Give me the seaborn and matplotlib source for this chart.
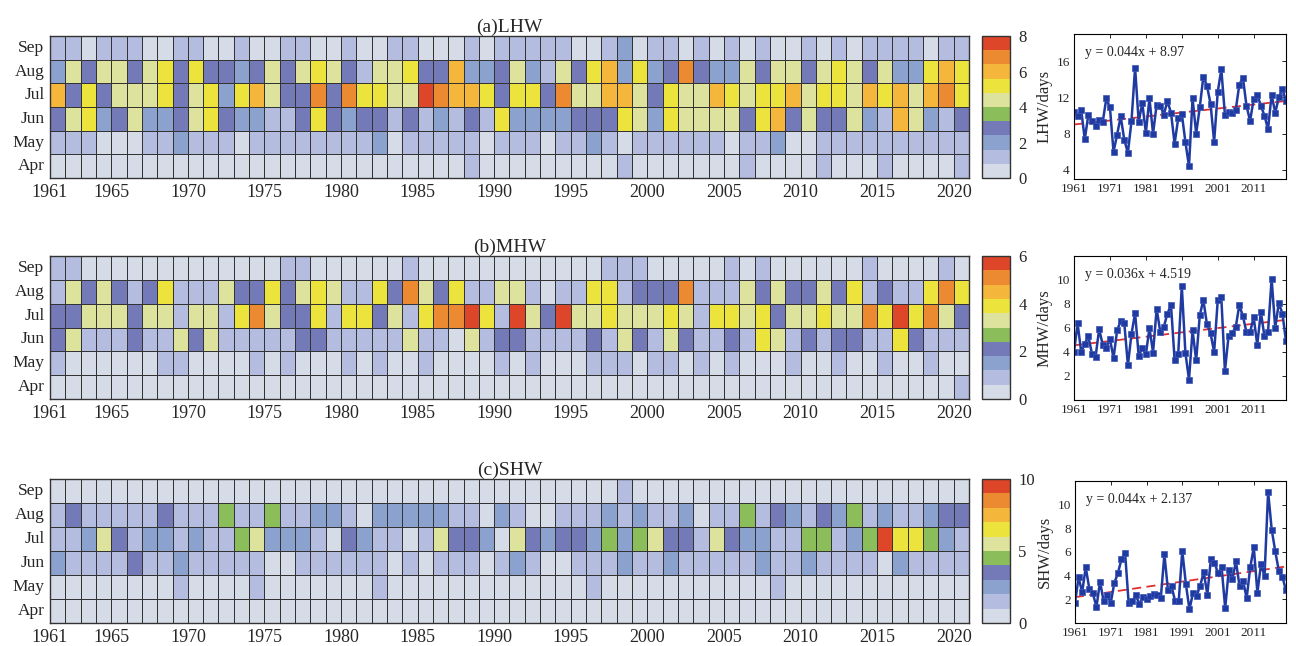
import numpy as np
import pandas as pd
import matplotlib
matplotlib.use("Agg")
import matplotlib.pyplot as plt
from matplotlib.colors import ListedColormap
import seaborn as sns

years = list(range(1961, 2021))
months = ["Sep", "Aug", "Jul", "Jun", "May", "Apr"]
year_ticks = [1961, 1965, 1970, 1975, 1980, 1985, 1990, 1995, 2000, 2005, 2010, 2015, 2020]
line_ticks = [1961, 1971, 1981, 1991, 2001, 2011]

# ---- (a) LHW: monthly heat-wave days ----
lhw_sep = [1.2,1.2,0.4,1.2,1.2,1.2,0.4,0.4,1.2,1.2, 0.4,0.4,1.2,0.4,0.4,1.2,1.2,0.4,0.4,1.2,
           0.4,0.4,1.2,1.2,0.4,0.4,0.4,1.2,0.4,1.2, 1.2,1.2,1.2,1.2,0.4,0.4,1.2,2.0,0.4,1.2,
           1.2,0.4,1.2,0.4,1.2,0.4,1.2,0.4,0.4,1.2, 0.4,1.2,0.4,1.2,1.2,1.2,1.2,0.4,1.2,1.2]
lhw_aug = [2.0,4.4,2.8,4.4,4.4,2.8,4.4,5.2,2.8,5.2, 2.8,2.8,2.0,2.8,4.4,2.8,4.4,5.2,4.4,2.8,
           1.2,4.4,4.4,5.2,2.8,2.8,6.0,2.0,2.0,2.8, 4.4,2.0,1.2,4.4,2.8,5.2,6.0,2.0,5.2,2.0,
           2.8,6.8,2.8,2.0,2.0,4.4,2.8,4.4,4.4,2.8, 4.4,5.2,4.4,2.8,4.4,2.0,2.0,5.2,6.0,5.2]
lhw_jul = [6.0,2.8,5.2,2.8,4.4,4.4,4.4,5.2,2.8,4.4, 5.2,2.0,5.2,6.0,4.4,2.8,2.8,6.8,2.8,6.8,
           5.2,5.2,4.4,4.4,7.6,6.8,6.0,6.0,5.2,2.8, 5.2,5.2,2.8,6.8,4.4,4.4,6.0,6.0,4.4,2.8,
           5.2,4.4,4.4,6.0,5.2,4.4,5.2,5.2,6.0,4.4, 5.2,5.2,4.4,6.0,5.2,6.0,4.4,6.0,6.8,5.2]
lhw_jun = [2.8,4.4,5.2,2.0,2.8,4.4,2.0,2.0,2.8,4.4, 5.2,2.8,2.0,2.0,1.2,1.2,2.8,5.2,2.8,2.0,
           2.8,2.8,1.2,2.8,1.2,2.0,1.2,2.8,1.2,5.2, 2.0,2.0,2.0,2.0,2.8,2.8,2.8,5.2,4.4,2.0,
           5.2,4.4,4.4,4.4,4.4,2.8,5.2,6.0,2.8,4.4, 2.8,2.8,4.4,2.0,1.2,6.0,4.4,2.0,1.2,2.8]
lhw_may = [1.2,1.2,1.2,0.4,0.4,0.4,1.2,1.2,2.0,1.2, 1.2,1.2,0.4,1.2,1.2,1.2,1.2,1.2,1.2,1.2,
           1.2,2.0,0.4,1.2,1.2,1.2,1.2,1.2,0.4,1.2, 1.2,1.2,0.4,1.2,1.2,2.0,1.2,0.4,1.2,1.2,
           1.2,1.2,1.2,1.2,0.4,1.2,1.2,2.0,0.4,0.4, 1.2,1.2,1.2,1.2,1.2,1.2,1.2,1.2,1.2,1.2]
lhw_apr = [0.4,0.4,0.4,0.4,0.4,0.4,0.4,0.4,0.4,0.4, 0.4,0.4,0.4,0.4,0.4,0.4,0.4,0.4,0.4,0.4,
           0.4,0.4,0.4,0.4,0.4,0.4,0.4,1.2,0.4,0.4, 0.4,0.4,0.4,0.4,0.4,0.4,0.4,1.2,0.4,0.4,
           0.4,0.4,0.4,0.4,0.4,1.2,0.4,0.4,0.4,0.4, 1.2,0.4,0.4,0.4,1.2,0.4,0.4,0.4,0.4,1.2]

# ---- (b) MHW ----
mhw_sep = [0.9,0.9,0.3,0.3,0.3,0.3,0.3,0.3,0.3,0.3, 0.3,0.3,0.3,0.3,0.3,0.9,0.9,0.3,0.3,0.3,
           0.3,0.3,0.3,0.9,0.3,0.3,0.3,0.3,0.3,0.3, 0.3,0.3,0.3,0.3,0.3,0.3,0.9,0.9,0.9,0.3,
           0.3,0.3,0.3,0.3,0.9,0.3,0.9,0.3,0.3,0.3, 0.3,0.3,0.3,0.9,0.3,0.3,0.3,0.3,0.9,0.3]
mhw_aug = [0.9,3.3,2.1,3.3,2.1,0.9,2.1,3.9,0.9,0.9, 0.9,3.3,2.1,2.1,3.9,2.1,3.3,3.9,3.3,0.9,
           0.9,3.9,2.1,5.1,3.3,2.1,3.9,0.9,0.9,3.3, 3.3,0.9,0.3,0.9,0.9,3.9,3.9,0.9,2.1,2.1,
           2.1,5.1,0.9,0.9,0.9,3.3,2.1,3.3,2.1,2.1, 3.3,2.1,3.9,0.9,2.1,0.9,0.9,3.9,5.1,3.9]
mhw_jul = [2.1,2.1,3.3,3.3,3.3,2.1,3.3,3.3,0.9,3.3, 3.3,0.9,3.9,5.1,3.3,2.1,2.1,3.9,0.9,3.9,
           3.9,2.1,3.3,0.9,3.9,5.1,5.1,5.7,3.9,0.9, 5.7,3.3,2.1,5.7,3.3,3.3,3.9,3.3,3.3,3.3,
           3.9,3.3,0.9,3.9,3.9,3.3,3.9,2.1,3.3,3.3, 3.9,3.3,3.3,5.1,3.9,5.7,3.9,5.1,3.3,2.1]
mhw_jun = [2.1,3.3,0.9,0.9,0.9,2.1,0.9,0.9,3.3,2.1, 3.3,0.9,0.9,0.9,0.9,0.9,2.1,2.1,0.9,0.9,
           0.9,0.9,0.9,3.3,0.9,0.9,0.3,3.3,0.9,2.1, 2.1,0.9,0.9,0.9,0.9,2.1,0.9,3.3,2.1,0.9,
           3.3,2.1,0.9,0.9,2.1,0.9,3.9,3.3,0.9,2.1, 0.9,2.1,2.1,0.9,0.9,3.9,2.1,0.9,0.9,0.9]
mhw_may = [0.9,0.3,0.3,0.3,0.3,0.3,0.3,0.9,0.9,0.3, 0.3,0.3,0.3,0.9,0.3,0.9,0.3,0.3,0.3,0.9,
           0.3,0.9,0.3,0.3,0.9,0.3,0.3,0.3,0.3,0.9, 0.3,0.9,0.3,0.3,0.3,0.9,0.9,0.9,0.3,0.9,
           0.9,0.3,0.9,0.3,0.9,0.3,0.3,0.3,0.9,0.3, 0.3,0.9,0.3,0.3,0.9,0.3,0.3,0.9,0.3,0.3]
mhw_apr = [0.3,0.3,0.3,0.3,0.3,0.3,0.3,0.3,0.3,0.3, 0.3,0.3,0.3,0.3,0.3,0.3,0.3,0.3,0.3,0.3,
           0.3,0.3,0.3,0.3,0.3,0.3,0.3,0.3,0.3,0.3, 0.3,0.3,0.3,0.3,0.3,0.3,0.3,0.3,0.3,0.3,
           0.3,0.3,0.3,0.3,0.3,0.3,0.3,0.3,0.3,0.3, 0.3,0.3,0.3,0.3,0.3,0.3,0.3,0.3,0.3,0.9]

# ---- (c) SHW ----
shw_sep = [0.5,0.5,0.5,0.5,0.5,0.5,0.5,0.5,0.5,0.5, 0.5,0.5,0.5,0.5,0.5,0.5,0.5,0.5,0.5,0.5,
           0.5,0.5,0.5,0.5,0.5,0.5,0.5,0.5,0.5,0.5, 0.5,0.5,0.5,0.5,0.5,0.5,0.5,1.5,0.5,0.5,
           0.5,0.5,0.5,0.5,0.5,0.5,0.5,0.5,0.5,0.5, 0.5,0.5,0.5,0.5,0.5,0.5,0.5,0.5,0.5,0.5]
shw_aug = [1.5,3.5,1.5,1.5,1.5,1.5,1.5,3.5,1.5,1.5, 1.5,4.5,1.5,1.5,4.5,1.5,1.5,2.5,2.5,1.5,
           0.5,2.5,2.5,2.5,2.5,2.5,1.5,1.5,0.5,2.5, 1.5,0.5,0.5,1.5,1.5,1.5,2.5,1.5,2.5,1.5,
           1.5,2.5,0.5,1.5,1.5,4.5,1.5,3.5,2.5,1.5, 3.5,2.5,4.5,1.5,2.5,1.5,1.5,2.5,3.5,3.5]
shw_jul = [1.5,1.5,2.5,5.5,3.5,1.5,2.5,2.5,1.5,2.5, 1.5,1.5,4.5,5.5,2.5,2.5,2.5,1.5,0.5,3.5,
           2.5,1.5,1.5,0.5,1.5,5.5,3.5,3.5,2.5,0.5, 5.5,3.5,2.5,3.5,3.5,2.5,4.5,2.5,4.5,5.5,
           3.5,3.5,1.5,5.5,3.5,2.5,2.5,1.5,1.5,4.5, 4.5,1.5,2.5,4.5,9.5,6.5,6.5,4.5,2.5,1.5]
shw_jun = [2.5,1.5,1.5,1.5,1.5,3.5,1.5,1.5,2.5,1.5, 1.5,1.5,1.5,1.5,0.5,0.5,1.5,1.5,1.5,1.5,
           1.5,1.5,0.5,1.5,0.5,1.5,1.5,1.5,0.5,1.5, 2.5,1.5,0.5,0.5,1.5,1.5,1.5,2.5,1.5,1.5,
           2.5,1.5,1.5,1.5,1.5,1.5,2.5,1.5,1.5,2.5, 1.5,1.5,1.5,1.5,0.5,2.5,1.5,1.5,1.5,1.5]
shw_may = [0.5,0.5,0.5,0.5,0.5,0.5,0.5,0.5,1.5,0.5, 0.5,0.5,0.5,1.5,0.5,0.5,0.5,0.5,0.5,0.5,
           0.5,1.5,0.5,0.5,0.5,0.5,0.5,0.5,0.5,0.5, 0.5,0.5,0.5,0.5,0.5,1.5,0.5,0.5,0.5,0.5,
           0.5,0.5,0.5,0.5,0.5,0.5,0.5,1.5,0.5,0.5, 0.5,0.5,0.5,0.5,0.5,0.5,0.5,0.5,0.5,0.5]
shw_apr = [0.5,0.5,0.5,0.5,0.5,0.5,0.5,0.5,0.5,0.5, 0.5,0.5,0.5,0.5,0.5,0.5,0.5,0.5,0.5,0.5,
           0.5,0.5,0.5,0.5,0.5,0.5,0.5,0.5,0.5,0.5, 0.5,0.5,0.5,0.5,0.5,0.5,0.5,0.5,0.5,0.5,
           0.5,0.5,0.5,0.5,0.5,0.5,0.5,0.5,0.5,0.5, 0.5,0.5,0.5,0.5,0.5,0.5,0.5,0.5,0.5,0.5]

# ---- annual heat-wave days ----
lhw_annual = [10.4,9.9,10.6,7.4,10.1,9.4,8.9,9.5,9.3,11.9, 10.9,6.0,7.9,9.9,7.3,5.9,9.4,15.3,9.3,11.4,
              8.1,11.9,8.0,11.2,11.1,10.1,11.6,10.3,6.9,9.7, 10.2,7.1,4.4,11.9,8.0,10.9,14.3,13.3,11.3,7.1,
              12.6,15.1,10.1,10.4,10.3,10.6,13.4,14.2,11.1,9.4, 11.8,12.3,11.1,10.0,8.5,12.3,10.3,12.0,12.9,11.6]
mhw_annual = [4.0,6.4,4.0,4.7,5.3,3.85,3.6,5.9,4.6,4.35, 5.1,3.5,5.8,6.6,6.4,2.9,5.5,7.25,3.7,4.3,
              3.8,6.0,3.95,7.6,5.7,6.1,7.2,7.9,3.35,3.8, 9.5,3.95,1.7,5.8,3.3,7.05,8.35,6.3,5.55,4.0,
              8.3,8.55,2.4,5.3,5.6,6.05,7.9,7.0,5.65,5.65, 6.9,4.6,7.35,5.3,5.7,10.1,6.0,8.1,7.2,4.9]
shw_annual = [1.7,3.85,2.6,4.7,2.9,2.5,1.35,3.5,1.85,2.4, 1.7,3.4,4.2,5.4,5.95,1.7,1.85,2.35,1.6,2.2,
              2.0,2.25,2.45,2.4,2.15,5.8,2.75,3.1,1.85,1.85, 6.1,3.3,1.15,2.55,2.3,3.15,4.3,2.4,5.4,5.1,
              4.2,4.7,1.25,4.5,3.7,5.2,3.15,3.55,2.1,4.7, 6.4,2.55,4.95,4.0,11.1,7.9,6.05,4.4,3.9,2.75]

# linear trends (x = 1..60)
lhw_trend = (0.044, 8.97)
mhw_trend = (0.036, 4.519)
shw_trend = (0.044, 2.137)

palette = ["#d5dce8", "#b4bcdf", "#8ba2cf", "#7479b8", "#8cbd5b",
           "#dde29c", "#ece43c", "#f5b63c", "#ec8a31", "#dd4628"]
cmap = ListedColormap(palette)

sns.set_style("white")
plt.rcParams["font.family"] = ["Liberation Serif", "DejaVu Serif"]

W, H = 1296, 646
fig = plt.figure(figsize=(W / 100, H / 100), dpi=100)


def px_axes(left, top, right, bottom):
    return fig.add_axes([left / W, 1 - bottom / H, (right - left) / W, (bottom - top) / H])


def heat_panel(rows, vmax, cticks, title, top, bottom):
    frame = pd.DataFrame(rows, index=months, columns=years)
    ax = px_axes(50, top, 969, bottom)
    cax = px_axes(982, top, 1010, bottom)
    sns.heatmap(frame, ax=ax, cmap=cmap, vmin=0, vmax=vmax,
                linewidths=0.7, linecolor="#333333",
                cbar_ax=cax, cbar_kws={"ticks": cticks})
    ax.set_xticks([y - 1961 for y in year_ticks])
    ax.set_xticklabels([str(y) for y in year_ticks], rotation=0, fontsize=13)
    ax.set_yticks(np.arange(len(months)) + 0.5)
    ax.set_yticklabels(months, rotation=0, fontsize=12.5)
    ax.tick_params(length=0, pad=4)
    ax.set_xlabel("")
    ax.set_ylabel("")
    ax.set_title(title, fontsize=14, pad=3)
    for sp in ax.spines.values():
        sp.set_visible(True)
        sp.set_color("#333333")
        sp.set_linewidth(1.0)
    cb = ax.collections[0].colorbar
    cb.outline.set_visible(True)
    cb.outline.set_edgecolor("#333333")
    cb.outline.set_linewidth(1.0)
    cax.tick_params(labelsize=12, length=3, direction="in", width=0.6, pad=6)


def line_panel(values, trend, ylim, yticks, ylabel, top, bottom, left=1074):
    ax = px_axes(left, top, 1286, bottom)
    df = pd.DataFrame({"year": years, "days": values})
    slope, icpt = trend
    df["fit"] = slope * np.arange(1, len(years) + 1) + icpt
    sns.lineplot(data=df, x="year", y="fit", ax=ax, color="#e0302e",
                 linestyle=(0, (5, 3)), linewidth=1.3)
    sns.lineplot(data=df, x="year", y="days", ax=ax, color="#1f3aa0",
                 linewidth=1.8, marker="s", markersize=4.4,
                 markeredgecolor="#3b55b8", markerfacecolor="#1f3aa0", markeredgewidth=0.5)
    ax.set_xlim(1961, 2020)
    ax.set_ylim(*ylim)
    ax.set_xticks(line_ticks)
    ax.set_yticks(yticks)
    ax.tick_params(direction="in", top=True, right=True, length=3, width=0.7,
                   labelsize=9.5, pad=3)
    ax.set_xlabel("")
    ax.set_ylabel(ylabel, fontsize=12, labelpad=3)
    for sp in ax.spines.values():
        sp.set_color("black")
        sp.set_linewidth(0.8)
    ax.text(0.05, 0.87, f"y = {slope:g}x + {icpt:g}", transform=ax.transAxes,
            fontsize=10, ha="left", va="center")


heat_panel([lhw_sep, lhw_aug, lhw_jul, lhw_jun, lhw_may, lhw_apr], 8, [0, 2, 4, 6, 8],
           "(a)LHW", 36, 178)
heat_panel([mhw_sep, mhw_aug, mhw_jul, mhw_jun, mhw_may, mhw_apr], 6, [0, 2, 4, 6],
           "(b)MHW", 256, 399)
heat_panel([shw_sep, shw_aug, shw_jul, shw_jun, shw_may, shw_apr], 10, [0, 5, 10],
           "(c)SHW", 479, 623)

line_panel(lhw_annual, lhw_trend, (3, 19), [4, 8, 12, 16], "LHW/days", 34, 179)
line_panel(mhw_annual, mhw_trend, (0, 12), [2, 4, 6, 8, 10], "MHW/days", 256, 400)
line_panel(shw_annual, shw_trend, (0, 12), [2, 4, 6, 8, 10], "SHW/days", 481, 623, left=1075)

fig.savefig("out.png", dpi=100, facecolor="white")
